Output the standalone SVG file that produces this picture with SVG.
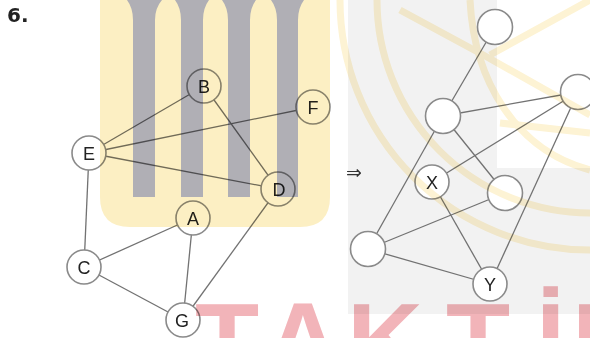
<svg xmlns="http://www.w3.org/2000/svg" width="590" height="338" viewBox="0 0 590 338">
<style>
.edge{stroke:#727272;stroke-width:1.3;fill:none}
.node circle{fill:#fff;stroke:#8a8a8a;stroke-width:1.6}
.lbl{font-family:"Liberation Sans",Arial,sans-serif;font-size:18px;fill:#222;text-anchor:middle}
.wm{mix-blend-mode:multiply}
.bar{fill:#b0afb5}
.band{fill:none;stroke:#fdf3d4;stroke-width:7}
</style>
<rect width="590" height="338" fill="#fff"/>
<path d="M348 0H497V168H590V314H348Z" fill="#f2f2f2"/>
<text x="7" y="22" font-family="DejaVu Sans,sans-serif" font-weight="bold" font-size="20" fill="#222">6.</text>
<text x="354" y="179" font-family="DejaVu Sans,sans-serif" font-size="19" fill="#333" text-anchor="middle">⇒</text>
<g id="connectors">
<line class="edge" x1="89" y1="153" x2="204" y2="86"/>
<line class="edge" x1="89" y1="153" x2="313" y2="107"/>
<line class="edge" x1="89" y1="153" x2="278" y2="189"/>
<line class="edge" x1="204" y1="86" x2="278" y2="189"/>
<line class="edge" x1="89" y1="153" x2="84" y2="267"/>
<line class="edge" x1="84" y1="267" x2="193" y2="218"/>
<line class="edge" x1="84" y1="267" x2="183" y2="320"/>
<line class="edge" x1="193" y1="218" x2="183" y2="320"/>
<line class="edge" x1="278" y1="189" x2="183" y2="320"/>
<line class="edge" x1="495" y1="27" x2="443" y2="116"/>
<line class="edge" x1="443" y1="116" x2="578" y2="92"/>
<line class="edge" x1="443" y1="116" x2="368" y2="249"/>
<line class="edge" x1="443" y1="116" x2="505" y2="193"/>
<line class="edge" x1="578" y1="92" x2="432" y2="182"/>
<line class="edge" x1="578" y1="92" x2="490" y2="284"/>
<line class="edge" x1="432" y1="182" x2="490" y2="284"/>
<line class="edge" x1="505" y1="193" x2="368" y2="249"/>
<line class="edge" x1="368" y1="249" x2="490" y2="284"/>
</g>
<g id="node-B" class="node"><circle cx="204" cy="86" r="17"/><text class="lbl" x="204" y="92.5">B</text></g>
<g id="node-F" class="node"><circle cx="313" cy="107" r="17"/><text class="lbl" x="313" y="113.5">F</text></g>
<g id="node-E" class="node"><circle cx="89" cy="153" r="17"/><text class="lbl" x="89" y="159.5">E</text></g>
<g id="node-D" class="node"><circle cx="278" cy="189" r="17"/><text class="lbl" x="279" y="195.5">D</text></g>
<g id="node-A" class="node"><circle cx="193" cy="218" r="17"/><text class="lbl" x="193" y="224.5">A</text></g>
<g id="node-C" class="node"><circle cx="84" cy="267" r="17"/><text class="lbl" x="84" y="273.5">C</text></g>
<g id="node-G" class="node"><circle cx="183" cy="320" r="17"/><text class="lbl" x="182" y="326.5">G</text></g>
<g id="node-top" class="node"><circle cx="495" cy="27" r="17.5"/></g>
<g id="node-n1" class="node"><circle cx="443" cy="116" r="17.5"/></g>
<g id="node-n2" class="node"><circle cx="578" cy="92" r="17.5"/></g>
<g id="node-X" class="node"><circle cx="432" cy="182" r="17"/><text class="lbl" x="432" y="188.5">X</text></g>
<g id="node-n3" class="node"><circle cx="505" cy="193" r="17.5"/></g>
<g id="node-n4" class="node"><circle cx="368" cy="249" r="17.5"/></g>
<g id="node-Y" class="node"><circle cx="490" cy="284" r="17"/><text class="lbl" x="490" y="290.5">Y</text></g>
<g id="watermark" class="wm">
<path d="M100 0H330V197Q330 227 300 227H130Q100 227 100 197Z" fill="#fcefc3"/>
<path class="bar" d="M127 0H162Q155 8 155 20V197H133V20Q133 8 127 0Z"/>
<path class="bar" d="M175 0H209Q203 8 203 20V197H181V20Q181 8 175 0Z"/>
<path class="bar" d="M222 0H256Q250 8 250 20V197H228V20Q228 8 222 0Z"/>
<path class="bar" d="M271 0H304Q298 8 298 20V197H277V20Q277 8 271 0Z"/>
<path class="band" d="M340 0A250 250 0 0 0 590 250"/>
<path class="band" d="M377 0A213 213 0 0 0 590 213"/>
<path class="band" d="M470 0C474 80 515 150 590 170"/>
<path class="band" d="M400 10L487 57L590 115"/>
<path class="band" d="M590 0L490 55"/>
<path class="band" d="M500 123L590 133"/>
<text x="195 265 347 446 536 572" y="377" font-family="Liberation Sans,Arial,sans-serif" font-weight="bold" font-size="105" fill="#f2b4b9">TAKTİK</text>
</g>
</svg>
